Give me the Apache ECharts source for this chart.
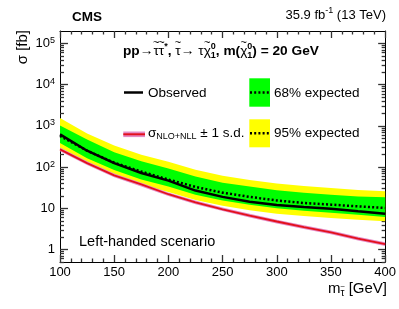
<!DOCTYPE html>
<html><head><meta charset="utf-8">
<script src="https://cdn.jsdelivr.net/npm/echarts@6/dist/echarts.min.js"></script>
<style>html,body{margin:0;padding:0;background:#fff}#c{width:399px;height:309px}</style>
</head><body><div id="c"></div>
<script>
const mass      = [100, 125, 150, 175, 200, 225, 250, 275, 300, 325, 350, 375, 400];
const observed  = [620, 250, 125, 72, 47, 27, 19, 14.5, 12, 10.8, 9.8, 8.5, 7.4];
const expected  = [570, 250, 128, 78, 50, 33, 24, 19, 15.5, 13.5, 12.3, 11.2, 10.2];
const exp68Up   = [1020, 470, 230, 138, 92, 59, 42, 34, 27.5, 24, 21.5, 19.5, 18.5];
const exp68Down = [385, 165, 85, 50, 34, 21.5, 15.5, 12.2, 10, 8.7, 7.8, 7.0, 6.2];
const exp95Up   = [1550, 650, 335, 200, 135, 86, 62, 49, 40, 35, 31, 28, 26];
const exp95Down = [290, 120, 62, 37, 25, 16, 11.5, 9, 7.4, 6.5, 5.8, 5.3, 4.9];
const theory     = [270, 125, 63, 38, 22, 14, 9.5, 6.7, 4.8, 3.5, 2.6, 1.85, 1.35];
const theoryUp   = [300, 139, 70, 42, 24.4, 15.5, 10.5, 7.4, 5.3, 3.9, 2.9, 2.05, 1.5];
const theoryDown = [243, 112, 57, 34, 19.8, 12.6, 8.6, 6.0, 4.3, 3.15, 2.35, 1.67, 1.22];
const yDecades = [0, 1, 2, 3, 4, 5];
const yMin = 0.5, yMax = 2e5;

const FF = '"Liberation Sans", Arial, sans-serif';
const LO = Math.log10(yMin), HI = Math.log10(yMax);
const minorVals = [];
for (let d = -1; d <= 5; d++) for (let k = 2; k <= 9; k++) {
  const v = d + Math.log10(k); if (v > LO && v < HI) minorVals.push(v);
}

const ctx = document.createElement('canvas').getContext('2d');
function tw(t, f) { ctx.font = f; return ctx.measureText(t).width; }
function fsize(f) { return parseFloat(f.match(/([\d.]+)px/)[1]); }
function layout(pieces, x0, y) {
  const out = []; let x = x0;
  pieces.forEach(p => {
    if (p.sup !== undefined) {
      out.push({type:'text', z:20, style:{text:p.sup, x:x, y:y + p.dyUp, font:p.f, fill:'#000', verticalAlign:'middle'}});
      out.push({type:'text', z:20, style:{text:p.sub, x:x, y:y + p.dyDn, font:p.f, fill:'#000', verticalAlign:'middle'}});
      x += Math.max(tw(p.sup, p.f), tw(p.sub, p.f)) + (p.gap || 0);
    } else {
      const w = tw(p.t, p.f);
      const yy = y + (p.dy || 0);
      out.push({type:'text', z:20, style:{text:p.t, x:x, y:yy, font:p.f, fill:'#000', verticalAlign:'middle'}});
      if (p.tilde) {
        const s = fsize(p.f);
        out.push({type:'text', z:20, style:{text:'~', x:x + w / 2, y:yy - s * 0.6, font:(s * 0.8) + 'px ' + FF, fill:'#000', align:'center', verticalAlign:'middle'}});
      }
      x += w;
    }
  });
  return {items: out, width: x - x0};
}
function widthOf(pieces){ return layout(pieces, 0, 0).width; }

const S = 13.7;
const B = 'bold ' + S + 'px ' + FF, N = S + 'px ' + FF, SS = 'bold 9px ' + FF;
const titlePieces = [
  {t:'pp', f:B}, {t:'\u2192', f:N}, {t:'\u03C4', f:N, tilde:true}, {t:'\u03C4', f:N, tilde:true}, {t:'*', f:SS, dy:-4.5},
  {t:', ', f:B}, {t:'\u03C4', f:N, tilde:true}, {t:'\u2192 \u03C4', f:N}, {t:'\u03C7', f:N, tilde:true},
  {sup:'0', sub:'1', f:SS, dyUp:-4.5, dyDn:5},
  {t:', m(', f:B}, {t:'\u03C7', f:N, tilde:true}, {sup:'0', sub:'1', f:SS, dyUp:-4.5, dyDn:5},
  {t:') = 20 GeV', f:B}
];
const title = layout(titlePieces, 123, 51);

const lumiPieces = [{t:'35.9 fb', f:'13px ' + FF}, {t:'-1', f:'9px ' + FF, dy:-4.5}, {t:' (13 TeV)', f:'13px ' + FF}];
const lumi = layout(lumiPieces, 386 - widthOf(lumiPieces), 15.5);

const xtPieces = [{t:'m', f:'15px ' + FF}, {t:'\u03C4', f:'10px ' + FF, dy:4, tilde:true}, {t:' [GeV]', f:'15px ' + FF}];
const xt = layout(xtPieces, 387 - widthOf(xtPieces), 289);

const LF = '13.5px ' + FF;
const sigPieces = [{t:'\u03C3', f:LF}, {t:'NLO+NLL', f:'9px ' + FF, dy:3.5}, {t:' \u00B1 1 s.d.', f:LF}];
const sig = layout(sigPieces, 148, 133.5);

function band(up, dn, color, z) {
  return {
    type:'custom', xAxisIndex:0, yAxisIndex:0, z:z, silent:true, clip:true,
    data:[[mass[0], up[0]]],
    renderItem: function(params, api) {
      const pts = [];
      for (let i = 0; i < mass.length; i++) pts.push(api.coord([mass[i], up[i]]));
      for (let i = mass.length - 1; i >= 0; i--) pts.push(api.coord([mass[i], dn[i]]));
      return {type:'polygon', shape:{points:pts}, style:{fill:color, stroke:null}};
    }
  };
}
function pairs(arr){ return mass.map((m, i) => [m, arr[i]]); }
function tk() { return {color:'#333', width:1.3}; }

const chart = echarts.init(document.getElementById('c'), null, {renderer:'canvas'});
chart.setOption({
  animation:false,
  grid:{left:60, right:13, top:31, bottom:47, containLabel:false},
  xAxis:[
    {type:'value', position:'bottom', min:100, max:400, interval:50,
     axisLine:{show:true, onZero:false, lineStyle:{color:'#000', width:1}},
     axisTick:{show:true, inside:true, length:7, lineStyle:tk()},
     minorTick:{show:true, splitNumber:5, length:3.5, lineStyle:tk()},
     splitLine:{show:false}, minorSplitLine:{show:false},
     axisLabel:{show:true, margin:4, color:'#000', fontSize:13, fontFamily:FF}},
    {type:'value', position:'top', min:100, max:400, interval:50,
     axisLine:{show:true, onZero:false, lineStyle:{color:'#000', width:1}},
     axisTick:{show:true, inside:true, length:7, lineStyle:tk()},
     minorTick:{show:true, splitNumber:5, length:3.5, lineStyle:tk()},
     splitLine:{show:false}, axisLabel:{show:false}}
  ],
  yAxis:[
    {type:'log', min:yMin, max:yMax, position:'left',
     axisLine:{show:false}, axisTick:{show:false}, axisLabel:{show:false}, splitLine:{show:false}, minorTick:{show:false}},
    {type:'value', min:LO, max:HI, position:'left',
     axisLine:{show:true, onZero:false, lineStyle:{color:'#000', width:1}},
     axisTick:{show:true, inside:true, length:8, customValues:yDecades, lineStyle:tk()},
     axisLabel:{show:true, customValues:yDecades, margin:5, color:'#000', fontSize:13, fontFamily:FF,
       formatter:function(v){ const e = Math.round(v); if (e === 0) return '1'; if (e === 1) return '10'; return '10{s|' + e + '}'; },
       rich:{s:{fontSize:9, fontFamily:FF, color:'#000', padding:[0,0,6,0]}}},
     splitLine:{show:false}},
    {type:'value', min:LO, max:HI, position:'left',
     axisLine:{show:false, onZero:false}, axisLabel:{show:false}, splitLine:{show:false},
     axisTick:{show:true, inside:true, length:4, customValues:minorVals, lineStyle:tk()}},
    {type:'value', min:LO, max:HI, position:'right',
     axisLine:{show:true, onZero:false, lineStyle:{color:'#000', width:1}}, axisLabel:{show:false}, splitLine:{show:false},
     axisTick:{show:true, inside:true, length:7, customValues:yDecades, lineStyle:tk()}},
    {type:'value', min:LO, max:HI, position:'right',
     axisLine:{show:false, onZero:false}, axisLabel:{show:false}, splitLine:{show:false},
     axisTick:{show:true, inside:true, length:3.5, customValues:minorVals, lineStyle:tk()}}
  ],
  series:[
    band(exp95Up, exp95Down, '#ffff00', 1),
    band(exp68Up, exp68Down, '#00ff00', 2),
    band(theoryUp, theoryDown, '#e58bc6', 3),
    {type:'line', xAxisIndex:0, yAxisIndex:0, z:4, data:pairs(theory), symbol:'none', silent:true,
     lineStyle:{color:'#e3101c', width:1.8}},
    {type:'line', xAxisIndex:0, yAxisIndex:0, z:5, data:pairs(expected), symbol:'none', silent:true,
     lineStyle:{color:'#000', width:2.5, type:[2,2.2], cap:'butt'}},
    {type:'line', xAxisIndex:0, yAxisIndex:0, z:6, data:pairs(observed), symbol:'none', silent:true,
     lineStyle:{color:'#000', width:2.5}}
  ],
  graphic:[
    {type:'text', z:20, style:{text:'CMS', x:72, y:17.5, font:'bold 13.5px ' + FF, fill:'#000', verticalAlign:'middle'}},
    ...lumi.items,
    ...title.items,
    ...xt.items,
    {type:'text', z:20, rotation:Math.PI/2, x:23, y:30, style:{text:'\u03C3 [fb]', x:0, y:0, font:'15px ' + FF, fill:'#000', align:'right', verticalAlign:'middle'}},
    {type:'line', z:20, shape:{x1:124, y1:92.5, x2:143, y2:92.5}, style:{stroke:'#000', lineWidth:2.5}},
    {type:'text', z:20, style:{text:'Observed', x:148, y:93, font:LF, fill:'#000', verticalAlign:'middle'}},
    {type:'rect', z:20, shape:{x:249.3, y:78.3, width:20.7, height:28.4}, style:{fill:'#00ff00'}},
    {type:'line', z:21, shape:{x1:250, y1:92.5, x2:270, y2:92.5}, style:{stroke:'#000', lineWidth:2.5, lineDash:[2,2.2]}},
    {type:'text', z:20, style:{text:'68% expected', x:274, y:93, font:LF, fill:'#000', verticalAlign:'middle'}},
    {type:'rect', z:20, shape:{x:249.3, y:119.3, width:20.7, height:28}, style:{fill:'#ffff00'}},
    {type:'line', z:21, shape:{x1:250, y1:133.3, x2:270, y2:133.3}, style:{stroke:'#000', lineWidth:2.5, lineDash:[2,2.2]}},
    {type:'text', z:20, style:{text:'95% expected', x:274, y:133.5, font:LF, fill:'#000', verticalAlign:'middle'}},
    {type:'rect', z:20, shape:{x:123.3, y:131.5, width:21.7, height:5.6}, style:{fill:'#e58bc6'}},
    {type:'line', z:21, shape:{x1:123.3, y1:134.3, x2:145, y2:134.3}, style:{stroke:'#e3101c', lineWidth:2}},
    ...sig.items,
    {type:'text', z:20, style:{text:'Left-handed scenario', x:79, y:242, font:'14.5px ' + FF, fill:'#000', verticalAlign:'middle'}}
  ]
});
</script></body></html>
